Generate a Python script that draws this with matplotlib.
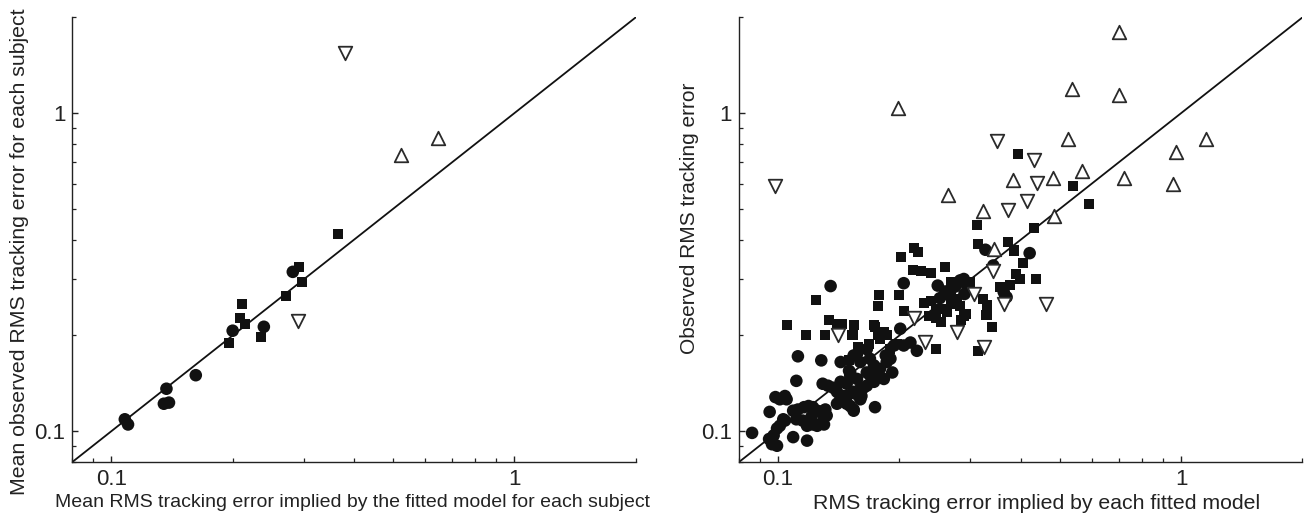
import matplotlib
matplotlib.use("Agg")
import matplotlib.pyplot as plt
from matplotlib.ticker import LogLocator, FixedLocator, FixedFormatter, NullFormatter

plt.rcParams['font.family'] = ['Liberation Sans', 'DejaVu Sans']

# ---- left panel: per-subject means ----
left_circ_x = [0.108, 0.110, 0.137, 0.135, 0.139, 0.162, 0.200, 0.239, 0.282]
left_circ_y = [0.109, 0.105, 0.136, 0.122, 0.123, 0.150, 0.207, 0.213, 0.317]
left_sq_x = [0.196, 0.211, 0.208, 0.215, 0.235, 0.272, 0.292, 0.297, 0.366]
left_sq_y = [0.190, 0.251, 0.227, 0.217, 0.198, 0.266, 0.329, 0.295, 0.417]
left_up_x = [0.524, 0.646]
left_up_y = [0.741, 0.836]
left_dn_x = [0.380, 0.290]
left_dn_y = [1.545, 0.222]

# ---- right panel: each fitted model ----
right_circ_x = [0.112, 0.128, 0.111, 0.129, 0.133, 0.137, 0.140, 0.145, 0.148, 0.151,
                0.150, 0.157, 0.163, 0.166, 0.173, 0.179, 0.186, 0.192, 0.183, 0.169,
                0.174, 0.154, 0.151, 0.143, 0.140, 0.148, 0.156, 0.161, 0.143, 0.0985,
                0.101, 0.104, 0.0953, 0.103, 0.101, 0.0994, 0.0975, 0.095, 0.0994, 0.109,
                0.118, 0.0862, 0.109, 0.112, 0.116, 0.119, 0.125, 0.127, 0.131, 0.121,
                0.129, 0.118, 0.125, 0.115, 0.105, 0.122, 0.130, 0.132, 0.111, 0.118,
                0.122, 0.130, 0.104, 0.0966, 0.160, 0.154, 0.148, 0.154, 0.148, 0.160,
                0.143, 0.151, 0.143, 0.154, 0.160, 0.190, 0.173, 0.169, 0.173, 0.166,
                0.185, 0.135, 0.205, 0.249, 0.283, 0.289, 0.327, 0.342, 0.421, 0.369,
                0.363, 0.205, 0.194, 0.213, 0.221, 0.201, 0.166, 0.260, 0.275, 0.295,
                0.252, 0.290]
right_circ_y = [0.172, 0.167, 0.144, 0.141, 0.139, 0.137, 0.133, 0.129, 0.141, 0.150,
                0.155, 0.146, 0.137, 0.153, 0.150, 0.157, 0.165, 0.153, 0.146, 0.169,
                0.119, 0.116, 0.120, 0.126, 0.122, 0.122, 0.131, 0.129, 0.143, 0.128,
                0.126, 0.129, 0.115, 0.109, 0.104, 0.102, 0.097, 0.0945, 0.090, 0.0958,
                0.0934, 0.0988, 0.116, 0.117, 0.119, 0.120, 0.116, 0.115, 0.117, 0.111,
                0.107, 0.104, 0.104, 0.108, 0.126, 0.119, 0.116, 0.112, 0.109, 0.105,
                0.105, 0.105, 0.108, 0.091, 0.136, 0.133, 0.129, 0.117, 0.123, 0.126,
                0.128, 0.153, 0.165, 0.173, 0.165, 0.169, 0.161, 0.150, 0.143, 0.139,
                0.173, 0.286, 0.292, 0.287, 0.298, 0.301, 0.372, 0.332, 0.363, 0.264,
                0.274, 0.186, 0.186, 0.190, 0.179, 0.210, 0.181, 0.275, 0.285, 0.285,
                0.262, 0.270]
right_sq_x = [0.105, 0.124, 0.117, 0.131, 0.134, 0.140, 0.144, 0.154, 0.153, 0.173,
              0.174, 0.178, 0.177, 0.183, 0.199, 0.202, 0.218, 0.222, 0.216, 0.226,
              0.240, 0.259, 0.205, 0.268, 0.300, 0.313, 0.373, 0.384, 0.406, 0.390,
              0.398, 0.437, 0.376, 0.356, 0.364, 0.323, 0.330, 0.329, 0.340, 0.289,
              0.293, 0.285, 0.230, 0.239, 0.246, 0.256, 0.262, 0.237, 0.246, 0.254,
              0.268, 0.278, 0.283, 0.268, 0.246, 0.313, 0.150, 0.158, 0.168, 0.177,
              0.190, 0.158, 0.179, 0.186, 0.197, 0.312, 0.431, 0.393, 0.540, 0.590]
right_sq_y = [0.215, 0.259, 0.201, 0.201, 0.223, 0.217, 0.217, 0.216, 0.200, 0.215,
              0.212, 0.269, 0.248, 0.205, 0.268, 0.352, 0.376, 0.367, 0.322, 0.318,
              0.315, 0.328, 0.239, 0.294, 0.294, 0.388, 0.393, 0.370, 0.338, 0.312,
              0.301, 0.300, 0.288, 0.284, 0.267, 0.261, 0.249, 0.232, 0.212, 0.230,
              0.234, 0.223, 0.253, 0.257, 0.242, 0.242, 0.237, 0.231, 0.227, 0.220,
              0.267, 0.261, 0.248, 0.251, 0.181, 0.179, 0.167, 0.179, 0.188, 0.200,
              0.181, 0.184, 0.195, 0.200, 0.188, 0.445, 0.435, 0.745, 0.592, 0.518]
right_dn_x = [0.0985, 0.141, 0.217, 0.232, 0.278, 0.306, 0.324, 0.342, 0.363, 0.463,
              0.349, 0.432, 0.439, 0.415, 0.371]
right_dn_y = [0.591, 0.200, 0.227, 0.191, 0.205, 0.270, 0.184, 0.318, 0.251, 0.251,
              0.820, 0.710, 0.603, 0.531, 0.496]
right_up_x = [0.703, 0.537, 0.700, 0.198, 0.524, 1.156, 0.972, 0.568, 0.481, 0.382,
              0.720, 0.955, 0.264, 0.322, 0.483, 0.344]
right_up_y = [1.80, 1.19, 1.14, 1.04, 0.83, 0.83, 0.754, 0.660, 0.626, 0.617,
              0.626, 0.599, 0.551, 0.494, 0.474, 0.374]

lims = [0.08, 2.0]
tick_vals = [0.1, 1]
tick_text = ['0.1', '1']


def draw_panel(ax, circ, sq, up, dn, xlabel, ylabel, xl_size, yl_size):
    ax.plot(lims, lims, color='#111111', lw=1.3, zorder=1)
    ax.scatter(*circ, s=82, marker='o', color='#111111', edgecolors='none', zorder=3)
    ax.scatter(*sq, s=52, marker='s', color='#111111', edgecolors='none', zorder=3)
    ax.scatter(*up, s=95, marker='^', facecolors='white', edgecolors='#2a2a2a',
               linewidths=1.3, zorder=4)
    ax.scatter(*dn, s=95, marker='v', facecolors='white', edgecolors='#2a2a2a',
               linewidths=1.3, zorder=4)

    ax.set_xscale('log')
    ax.set_yscale('log')
    ax.set_xlim(lims)
    ax.set_ylim(lims)
    for axis in (ax.xaxis, ax.yaxis):
        axis.set_major_locator(FixedLocator(tick_vals))
        axis.set_major_formatter(FixedFormatter(tick_text))
        axis.set_minor_locator(LogLocator(base=10, subs=range(2, 10)))
        axis.set_minor_formatter(NullFormatter())

    ax.spines['top'].set_visible(False)
    ax.spines['right'].set_visible(False)
    for s in ('left', 'bottom'):
        ax.spines[s].set_linewidth(1.0)
        ax.spines[s].set_color('#222222')
    ax.tick_params(which='major', direction='in', length=4, width=1.0,
                   labelsize=16, pad=5, color='#222222', labelcolor='#222222')
    ax.tick_params(which='minor', direction='in', length=3, width=0.9, color='#222222')
    ax.set_xlabel(xlabel, fontsize=xl_size, color='#222222')
    ax.set_ylabel(ylabel, fontsize=yl_size, color='#222222')


fig = plt.figure(figsize=(13.05, 5.22), dpi=100)
ax1 = fig.add_axes([0.0554, 0.1149, 0.4317, 0.8517])
ax2 = fig.add_axes([0.5663, 0.1149, 0.4317, 0.8517])

draw_panel(ax1, (left_circ_x, left_circ_y), (left_sq_x, left_sq_y),
           (left_up_x, left_up_y), (left_dn_x, left_dn_y),
           'Mean RMS tracking error implied by the fitted model for each subject',
           'Mean observed RMS tracking error for each subject', 14, 15.3)
draw_panel(ax2, (right_circ_x, right_circ_y), (right_sq_x, right_sq_y),
           (right_up_x, right_up_y), (right_dn_x, right_dn_y),
           'RMS tracking error implied by each fitted model',
           'Observed RMS tracking error', 15.3, 15)

ax1.xaxis.set_label_coords(0.497, -0.073)
ax1.yaxis.set_label_coords(-0.077, 0.472)
ax2.xaxis.set_label_coords(0.529, -0.073)
ax2.yaxis.set_label_coords(-0.071, 0.549)

fig.savefig('out.png', dpi=100)
